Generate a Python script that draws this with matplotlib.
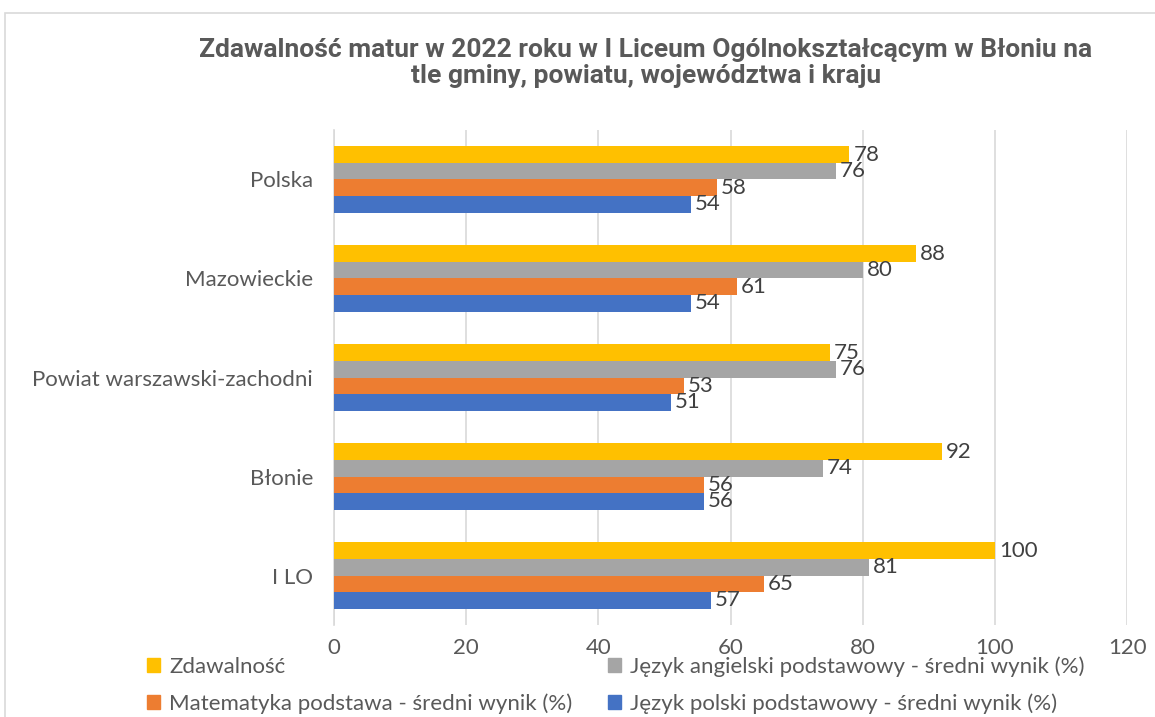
import matplotlib
matplotlib.use('Agg')
import matplotlib.pyplot as plt
import matplotlib.patches as mpatches
import numpy as np

plt.rcParams['font.family'] = ['Lato', 'DejaVu Sans']

# data
categories = ['Polska', 'Mazowieckie', 'Powiat warszawski-zachodni', 'Błonie', 'I LO']
zdawalnosc = [78, 88, 75, 92, 100]
angielski = [76, 80, 76, 74, 81]
matematyka = [58, 61, 53, 56, 65]
polski = [54, 54, 51, 56, 57]

series_names = ['Zdawalność',
                'Język angielski podstawowy - średni wynik (%)',
                'Matematyka podstawa - średni wynik (%)',
                'Język polski podstawowy - średni wynik (%)']
series = [zdawalnosc, angielski, matematyka, polski]
colors = ['#FFC000', '#A5A5A5', '#ED7D31', '#4472C4']
txt = '#595959'

fig = plt.figure(figsize=(11.55, 7.17), dpi=100)
ax = fig.add_axes([0.2892, 0.1283, 0.6866, 0.6904])

# frame around chart area
fig.patches.append(mpatches.Rectangle((0.004, -0.01), 1.0, 0.992, transform=fig.transFigure,
                                      fill=False, edgecolor='#D9D9D9', linewidth=1.2))

y = np.arange(len(categories))[::-1].astype(float)
h = 0.167
offsets = [1.5, 0.5, -0.5, -1.5]
for vals, name, col, off in zip(series, series_names, colors, offsets):
    yy = y + off * h
    ax.barh(yy, vals, height=h, color=col, label=name, zorder=3)
    for v, yp in zip(vals, yy):
        ax.text(v + 0.6, yp, str(v), va='center', ha='left', fontsize=16, color='#404040', zorder=4)

ax.set_xlim(0, 120)
ax.set_ylim(-0.5, len(categories) - 0.5)
ax.set_xticks(range(0, 121, 20))
ax.set_yticks(y)
ax.set_yticklabels(categories)
ax.tick_params(axis='both', length=0, labelsize=16, labelcolor=txt)
ax.tick_params(axis='y', pad=15)
ax.tick_params(axis='x', pad=9)
ax.grid(axis='x', color='#D9D9D9', linewidth=1.2, zorder=0)
for s in ['top', 'right', 'bottom']:
    ax.spines[s].set_visible(False)
ax.spines['left'].set_color('#D9D9D9')
ax.spines['left'].set_linewidth(1.2)

fig.text(0.559, 0.912, 'Zdawalność matur w 2022 roku w I Liceum Ogólnokształcącym w Błoniu na\ntle gminy, powiatu, województwa i kraju',
         ha='center', va='center', fontsize=19, fontweight='bold', color=txt, linespacing=1.1,
         family=['Roboto', 'DejaVu Sans'])

# legend is filled column by column, so reorder to get row-wise layout
order = [0, 2, 1, 3]
handles = [mpatches.Patch(color=colors[i]) for i in order]
labels = [series_names[i] for i in order]
leg = fig.legend(handles, labels, loc='lower left', bbox_to_anchor=(0.11, -0.024), ncol=2,
                 frameon=False, fontsize=16, handlelength=0.6, handleheight=0.6, handletextpad=0.4,
                 columnspacing=1.6, labelspacing=0.75)
for t in leg.get_texts():
    t.set_color(txt)

fig.savefig('out.png', dpi=100)
